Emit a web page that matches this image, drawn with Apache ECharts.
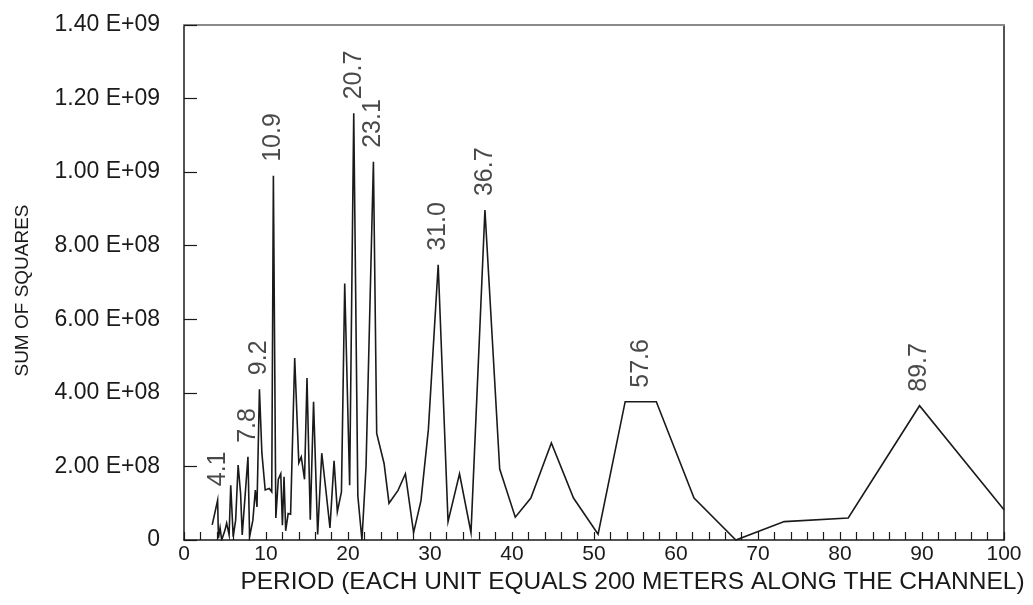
<!DOCTYPE html>
<html>
<head>
<meta charset="utf-8">
<style>
  html, body { margin: 0; padding: 0; background: #ffffff; }
  #chart { width: 1033px; height: 605px; }
</style>
<script src="https://cdn.jsdelivr.net/npm/echarts@6/dist/echarts.min.js"></script>
</head>
<body>
<div id="chart"></div>
<script>
// Period (units of 200 m along the channel)
const periods = [
  3.44, 4.1, 4.2, 4.4, 4.6, 5.0, 5.2, 5.5, 5.7, 6.0, 6.3, 6.6, 6.9, 7.1,
  7.8, 8.0, 8.4, 8.7, 8.9, 9.2, 9.5, 9.9, 10.1, 10.4, 10.7, 10.9, 11.2,
  11.5, 11.8, 12.0, 12.2, 12.4, 12.7, 13.0, 13.5, 14.0, 14.3, 14.7, 15.0,
  15.4, 15.8, 16.3, 16.8, 17.3, 17.8, 18.3, 18.7, 19.2, 19.6, 20.2, 20.7,
  21.2, 21.7, 22.2, 23.1, 23.5, 24.4, 25.0, 26.1, 27.0, 28.0, 28.9, 29.8,
  31.0, 32.2, 33.6, 35.0, 36.7, 38.5, 40.4, 42.3, 44.8, 47.5, 50.5, 53.8,
  57.6, 62.2, 67.3, 73.2, 81.0, 89.7, 100
];

// Sum of squares, in units of 1.00 E+08
const sumSquares = [
  0.41, 1.08, 0.05, 0.33, 0.0, 0.27, 0.46, 0.14, 1.49, 0.09, 0.54, 2.04, 1.27, 0.14,
  2.26, 0.09, 0.54, 1.36, 0.9, 4.10, 2.36, 1.36, 1.36, 1.4, 1.31, 9.9, 0.6,
  1.65, 1.8, 0.4, 1.72, 0.25, 0.72, 0.7, 4.95, 2.1, 2.26, 1.65, 4.4,
  0.55, 3.76, 0.15, 2.36, 1.36, 0.33, 2.15, 0.77, 1.31, 6.97, 1.49, 11.6,
  1.2, 0.0, 2.0, 10.28, 2.9, 2.08, 1.0, 1.35, 1.8, 0.2, 1.07, 3.0,
  7.48, 0.5, 1.8, 0.2, 8.97, 1.93, 0.62, 1.14, 2.64, 1.14, 0.16, 3.76,
  3.76, 1.14, 0.0, 0.5, 0.6, 3.65, 0.82
];

// Peaks whose period is written above them
const labelledPeriods = [4.1, 7.8, 9.2, 10.9, 20.7, 23.1, 31.0, 36.7, 57.6, 89.7];

// Axis tick labels
const xTickLabels = ['0', '10', '20', '30', '40', '50', '60', '70', '80', '90', '100'];
const yTickLabels = ['0', '2.00 E+08', '4.00 E+08', '6.00 E+08', '8.00 E+08',
                     '1.00 E+09', '1.20 E+09', '1.40 E+09'];

const xTitle = 'PERIOD (EACH UNIT EQUALS 200 METERS ALONG THE CHANNEL)';
const yTitle = 'SUM OF SQUARES';

const FONT = '"Liberation Sans", Arial, Helvetica, sans-serif';
const INK = '#1a1a1a';

const lineData = periods.map((p, i) => [p, sumSquares[i]]);

// Each peak label sits on the vertex of the curve at that period.
// Label offsets are in the rotated text frame: [along text, across text].
const peakData = labelledPeriods.map((p) => {
  const i = periods.indexOf(p);
  return {
    value: [p, sumSquares[i]],
    label: { offset: p === 57.6 ? [0, -15] : [0, 0] }
  };
});

const chart = echarts.init(document.getElementById('chart'), null, { renderer: 'canvas' });

chart.setOption({
  backgroundColor: '#ffffff',
  animation: false,
  grid: { left: 184, right: 29, top: 25, bottom: 65, containLabel: false },
  xAxis: [
    {
      type: 'value',
      min: 0, max: 100, interval: 10,
      position: 'bottom',
      axisLine: { show: true, onZero: false, lineStyle: { color: INK, width: 1.5 } },
      axisTick: { show: true, inside: true, length: 8, lineStyle: { color: INK, width: 1.2 } },
      minorTick: { show: true, splitNumber: 5, length: 8, lineStyle: { color: INK, width: 1.2 } },
      splitLine: { show: false },
      axisLabel: {
        margin: 4,
        color: INK,
        fontFamily: FONT,
        fontSize: 21,
        formatter: (v) => xTickLabels[Math.round(v / 10)]
      },
      name: xTitle,
      nameLocation: 'middle',
      nameGap: 29,
      nameTextStyle: { color: INK, fontFamily: FONT, fontSize: 24.5, padding: [0, 0, 0, 77] }
    },
    {
      type: 'value',
      min: 0, max: 100,
      position: 'top',
      axisLine: { show: true, onZero: false, lineStyle: { color: '#8a8a8a', width: 2 } },
      axisTick: { show: false },
      axisLabel: { show: false },
      splitLine: { show: false }
    }
  ],
  yAxis: [
    {
      type: 'value',
      min: 0, max: 14, interval: 2,
      position: 'left',
      axisLine: { show: true, onZero: false, lineStyle: { color: INK, width: 1.5 } },
      axisTick: { show: true, inside: true, length: 13, lineStyle: { color: INK, width: 1.2 } },
      splitLine: { show: false },
      axisLabel: {
        margin: 24,
        color: INK,
        fontFamily: FONT,
        fontSize: 23,
        formatter: (v) => yTickLabels[Math.round(v / 2)]
      },
      name: yTitle,
      nameLocation: 'middle',
      nameGap: 152,
      nameRotate: 90,
      nameTextStyle: { color: INK, fontFamily: FONT, fontSize: 19, padding: [0, 16, 0, 0] }
    },
    {
      type: 'value',
      min: 0, max: 14,
      position: 'right',
      axisLine: { show: true, onZero: false, lineStyle: { color: INK, width: 1.5 } },
      axisTick: { show: false },
      axisLabel: { show: false },
      splitLine: { show: false }
    }
  ],
  series: [
    {
      type: 'line',
      xAxisIndex: 0,
      yAxisIndex: 0,
      data: lineData,
      showSymbol: false,
      symbol: 'none',
      clip: true,
      lineStyle: { color: INK, width: 1.6, join: 'miter' },
      emphasis: { disabled: true }
    },
    {
      type: 'scatter',
      xAxisIndex: 0,
      yAxisIndex: 0,
      data: peakData,
      symbolSize: 0,
      itemStyle: { color: 'transparent' },
      label: {
        show: true,
        position: 'top',
        distance: 14,
        rotate: 90,
        align: 'left',
        verticalAlign: 'middle',
        color: INK,
        fontFamily: FONT,
        fontSize: 25,
        formatter: (params) => params.value[0].toFixed(1)
      },
      emphasis: { disabled: true },
      z: 3
    }
  ]
});
</script>
</body>
</html>
